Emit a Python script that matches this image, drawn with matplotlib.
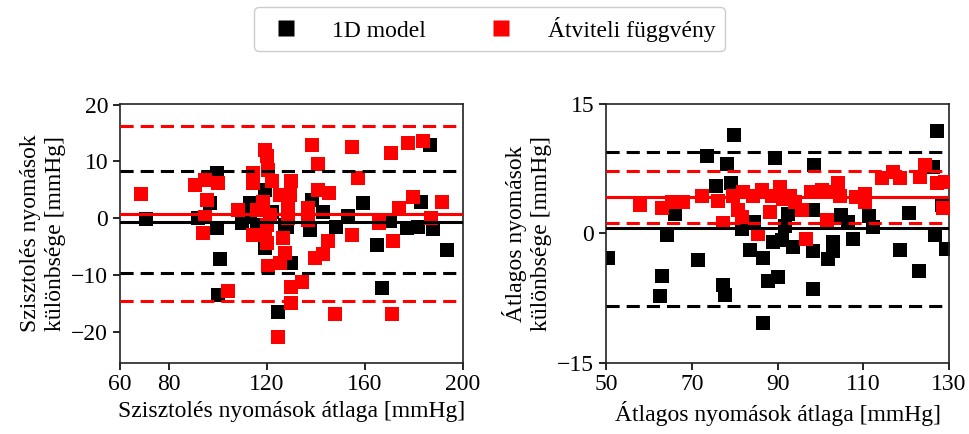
import matplotlib
matplotlib.use("Agg")
import matplotlib.pyplot as plt
from matplotlib.lines import Line2D

plt.rcParams['font.family'] = ['Liberation Serif', 'DejaVu Serif']
plt.rcParams['font.size'] = 17

# bal panel: szisztolés
sys_1d_x = [70.6, 92, 96.7, 99.5, 99.5, 100.8, 100.1, 109.7, 113, 113, 116, 119.2,
            119.2, 122, 127.3, 128, 130, 124.6, 137.6, 138.3, 143, 148.3, 153.2,
            159.3, 164.8, 166.8, 170.2, 177, 181.8, 183, 186.5, 187.8, 193.3]
sys_1d_y = [-0.1, 0, 2.6, 7.9, -1.8, -7.2, -13.5, -0.9, 2.6, 0.3, -1.2, 5.0,
            -5.3, 1, -1.2, -1.5, -7.9, -16.5, -2.1, 3.2, 1.0, -1.5, 0.3,
            2.6, -4.7, -12.3, -0.5, -1.7, -1.5, 2.9, 12.9, -1.9, -5.6]
sys_tf_x = [68.6, 90.6, 94.7, 100.1, 95.4, 94.7, 94, 103.9, 108.3, 114.4, 114.4,
            119.2, 119.9, 120.5, 121.9, 115.8, 118.5, 121.1, 119.9, 114.4, 119.2,
            119.9, 120.5, 125.3, 127.3, 126.5, 125.3, 128.7, 128.7, 130, 129.4,
            130, 134.1, 129.7, 124.6, 136.9, 136.9, 138.3, 141, 141, 145.4, 145,
            142.7, 139.6, 147.8, 154.5, 154.5, 157.3, 165.8, 170.6, 171.6, 171.2,
            174, 177.7, 179.4, 183.8, 186.8, 191.6]
sys_tf_y = [4.3, 5.9, 6.8, 6.2, 3.2, 0.2, -2.6, -12.9, 1.5, 7.9, 6.2,
            12.0, 10.9, 8.5, 6.5, 1.5, 2.9, 0.6, -1.2, -2.9, -2.9,
            -4.4, -8.5, -7.9, -6.2, -3.5, 4.1, 2.0, 0, 6.5, 4.1,
            -12.1, -11.2, -14.9, -21.0, 1.8, -0.3, 12.9, 9.6, 5.0, 4.4, -4.1,
            -6.4, -7.1, -16.9, 12.5, -2.9, 7.1, -0.9, 11.5, -4.1, -16.9,
            1.8, 13.2, 3.8, 13.6, 0.1, 2.8]
# átlag, alsó és felső határ
sys_1d_lines = [-0.65, -9.7, 8.3]
sys_tf_lines = [0.8, -14.7, 16.3]

# jobb panel: átlagos
mean_1d_x = [50.5, 62.6, 63, 64.3, 66.1, 71.4, 73.5, 75.6, 77.3, 77.7, 78.3, 79.1,
             79.8, 81.6, 83.6, 84.4, 86.7, 86.7, 87.7, 88.9, 89.4, 90, 91, 91.7,
             92.5, 93.7, 98.2, 98.2, 98.2, 98.5, 101.8, 102.9, 103, 104.7, 106.5,
             107.6, 111.4, 112.2, 118.5, 120.7, 123, 126.3, 126.7, 127.2, 128.3, 129.3]
mean_1d_y = [-2.9, -7.3, -4.9, -0.15, 2.3, -3.1, 9.0, 5.5, -6.0, -7.2, 8.1, 5.8,
             11.4, 0.5, -1.9, 1.3, -2.9, -10.4, -5.5, -1.0, 8.8, -5.1, -0.8, 0.9,
             2.3, -1.6, 2.7, -2.0, -6.5, 7.9, -3.0, -2.0, -1.0, 2.1, 1.3,
             -0.6, 2.0, 0.7, -1.9, 2.4, -4.4, 7.7, -0.15, 11.9, 3.3, -1.8]
mean_tf_x = [57.9, 63, 65.3, 68, 72.3, 76.2, 77.3, 79.7, 80.8, 81.6, 82, 84.3, 85.5,
             86.3, 88.2, 88.6, 90.6, 91.3, 92.9, 94, 95.6, 96.6, 97.9, 100.3, 101.6,
             102.2, 104.2, 104.5, 108.4, 110.4, 110.4, 114.3, 117, 118.5, 123.2,
             124.4, 127.1, 129, 128.6]
mean_tf_y = [3.3, 2.9, 3.7, 3.6, 4.3, 3.8, 1.2, 4.4, 2.7, 1.9, 4.8, 4.4, -0.03,
             5.0, 2.5, 4.4, 5.4, 4.0, 4.4, 3.6, 2.7, -0.7, 4.8, 5.0, 1.6,
             4.8, 5.9, 4.4, 4.2, 4.6, 3.7, 6.4, 7.1, 6.4, 6.5,
             7.9, 5.8, 6.0, 2.9]
mean_1d_lines = [0.6, -8.45, 9.4]
mean_tf_lines = [4.2, 1.2, 7.2]

fig = plt.figure(figsize=(9.69, 4.34), dpi=100)
ax1 = fig.add_axes([0.1238, 0.1643, 0.354, 0.5956])
ax2 = fig.add_axes([0.6254, 0.1643, 0.354, 0.5956])


def panel(ax, x1, y1, x2, y2, l1, l2):
    ax.scatter(x1, y1, marker='s', s=95, c='black', linewidths=0, zorder=2)
    ax.scatter(x2, y2, marker='s', s=95, c='red', linewidths=0, zorder=3)
    for vals, col in [(l1, 'black'), (l2, 'red')]:
        ax.axhline(vals[0], color=col, lw=2.2, zorder=4)
        for v in vals[1:]:
            ax.axhline(v, color=col, lw=2.2, dashes=(4.3, 2.3), zorder=4)
    ax.tick_params(direction='out', length=5, width=1.2, labelsize=17)
    for sp in ax.spines.values():
        sp.set_linewidth(1.2)
        sp.set_color('#222222')


panel(ax1, sys_1d_x, sys_1d_y, sys_tf_x, sys_tf_y, sys_1d_lines, sys_tf_lines)
ax1.set_xlim(60, 200)
ax1.set_ylim(-25.5, 20.1)
ax1.set_xticks([60, 80, 120, 160, 200])
ax1.set_yticks([-20, -10, 0, 10, 20])
ax1.set_xlabel('Szisztolés nyomások átlaga [mmHg]', fontsize=17)
ax1.set_ylabel('Szisztolés nyomások\nkülönbsége [mmHg]', fontsize=17)

panel(ax2, mean_1d_x, mean_1d_y, mean_tf_x, mean_tf_y, mean_1d_lines, mean_tf_lines)
ax2.set_xlim(50, 130)
ax2.set_ylim(-15, 15)
ax2.set_xticks([50, 70, 90, 110, 130])
ax2.set_yticks([-15, 0, 15])
ax2.set_xlabel('Átlagos nyomások átlaga [mmHg]', fontsize=17)
ax2.set_ylabel('Átlagos nyomások\nkülönbsége [mmHg]', fontsize=17)

handles = [Line2D([], [], ls='none', marker='s', ms=11, mfc='black', mec='none'),
           Line2D([], [], ls='none', marker='s', ms=11, mfc='red', mec='none')]
fig.legend(handles, ['1D model', 'Átviteli függvény'], loc='center',
           bbox_to_anchor=(0.505, 0.933), ncol=2, fontsize=17,
           handlelength=1.9, handletextpad=1.0, columnspacing=2.25,
           borderpad=0.4, edgecolor='#cccccc', framealpha=1)

fig.savefig('out.png', dpi=100)
